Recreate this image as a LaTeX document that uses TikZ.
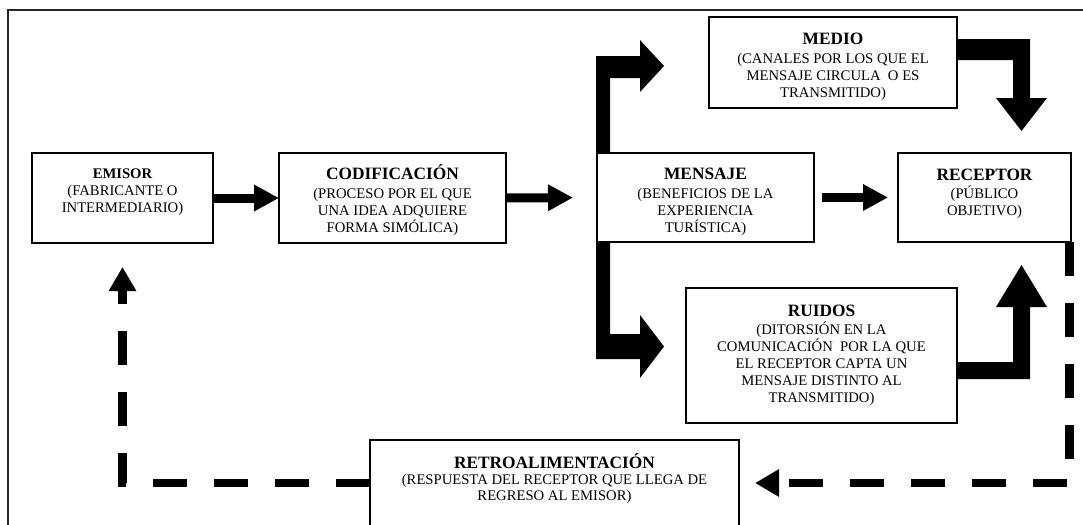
\documentclass[tikz,border=0pt]{standalone}
\usepackage{fontspec}
\setmainfont{Liberation Serif}
\usetikzlibrary{arrows.meta,calc,fit}
\newcommand\boxheadfont{\fontsize{13}{15}\selectfont\bfseries}
\newcommand\smallheadfont{\fontsize{11}{13}\selectfont\bfseries}
\newcommand\hstrut{\rule{0pt}{12.5pt}}
\begin{document}
\begin{tikzpicture}[x=0.75pt,y=-0.75pt,
  box/.style={draw, line width=0.9pt, fill=white, inner sep=0pt, outer sep=0pt},
  txt/.style={anchor=north, align=center, inner sep=0pt, font=\fontsize{11}{12.75}\selectfont},
  fat/.style={line width=6.75pt, -{Triangle[length=18.75pt,width=18.75pt]}},
  fb/.style={line width=6.4pt, dash pattern=on 25.5pt off 20.25pt, -{Triangle[length=18pt,width=19.5pt]}},
  bent/.style={fill=black}
]
\useasboundingbox (0,0) rectangle (1083,525);
\clip (0,0) rectangle (1083,525);
\draw[line width=0.9pt, black!85] (8,10) rectangle (1100,545);

% boxes
\node[box, fit={(32,153) (213,243)}] (emisor) {};
\node[box, fit={(279,153) (506,243)}] (cod) {};
\node[box, fit={(597,153) (814,242)}] (mensaje) {};
\node[box, fit={(898,153) (1071,242)}] (receptor) {};
\node[box, fit={(709,17) (957,108)}] (medio) {};
\node[box, fit={(686,288) (957,423)}] (ruidos) {};
\node[box, fit={(370,440) (739,545)}] (retro) {};

% texts
\node[txt] (emisorT) at (122.5,161.2) {{\hstrut\smallheadfont EMISOR}\\ (FABRICANTE O\\ INTERMEDIARIO)};
\node[txt] (codT) at (392.5,162.1) {{\hstrut\boxheadfont CODIFICACIÓN}\\[1.55pt] (PROCESO POR EL QUE\\ UNA IDEA ADQUIERE\\ FORMA SIMÓLICA)};
\node[txt] (mensajeT) at (705.5,162.1) {{\hstrut\boxheadfont MENSAJE}\\[1.55pt] (BENEFICIOS DE LA\\ EXPERIENCIA\\ TURÍSTICA)};
\node[txt] (receptorT) at (984.5,163.1) {{\hstrut\boxheadfont RECEPTOR}\\[0.8pt] (PÚBLICO\\ OBJETIVO)};
\node[txt] (medioT) at (833,27.1) {{\hstrut\boxheadfont MEDIO}\\[1.55pt] (CANALES POR LOS QUE EL\\ MENSAJE CIRCULA~ O ES\\ TRANSMITIDO)};
\node[txt] (ruidosT) at (821.5,299.1) {{\hstrut\boxheadfont RUIDOS}\\[0.8pt] (DITORSIÓN EN LA\\ COMUNICACIÓN~ POR LA QUE\\ EL RECEPTOR CAPTA UN\\ MENSAJE DISTINTO AL\\ TRANSMITIDO)};
\node[txt, font=\fontsize{11}{12}\selectfont] (retroT) at (554.5,451.1) {{\hstrut\boxheadfont RETROALIMENTACIÓN}\\[0.1pt] (RESPUESTA DEL RECEPTOR QUE LLEGA DE\\ REGRESO AL EMISOR)};

% straight thick arrows
\draw[fat] (emisor.east) -- (cod.west);
\draw[fat, shorten >=18pt] (cod.east) -- (mensaje.west);
\draw[fat, shorten <=6pt, shorten >=7.5pt] (mensaje.east) -- (receptor.west);

% bent arrows from MENSAJE
\fill[bent] ($(mensaje.north west)+(-1,0)$) -- ++(0,-97) -- ++(44,0) -- ++(0,-16) -- ++(24,26) -- ++(-24,26) -- ++(0,-14) -- ++(-30,0) -- ($(mensaje.north west)+(13,0)$) -- cycle;
\fill[bent] ($(mensaje.south west)+(-1,0)$) -- ++(0,117) -- ++(44,0) -- ++(0,19) -- ++(24,-31.5) -- ++(-24,-31.5) -- ++(0,19) -- ++(-30,0) -- ($(mensaje.south west)+(13,0)$) -- cycle;

% MEDIO -> RECEPTOR
\fill[bent] ($(medio.north east)+(-1,22)$) -- ++(74,0) -- ++(0,59) -- ++(17,0) -- ++(-25.5,33) -- ++(-25.5,-33) -- ++(17,0) -- ++(0,-38) -- ++(-57,0) -- cycle;
% RUIDOS -> RECEPTOR
\fill[bent] ($(ruidos.south east)+(-1,-44)$) -- ++(74,0) -- ++(0,-72) -- ++(17,0) -- ++(-25.5,-42) -- ++(-25.5,42) -- ++(17,0) -- ++(0,55) -- ++(-57,0) -- cycle;

% feedback dashed arrows
\coordinate (fbtip) at (122.5,267);
\draw[fb] ($(retro.north west)+(0,43)$) -| (fbtip);
\draw[fb] ($(receptor.south east)+(-1.5,0)$) |- ($(retro.north east)+(16,43)$);
\end{tikzpicture}
\end{document}
